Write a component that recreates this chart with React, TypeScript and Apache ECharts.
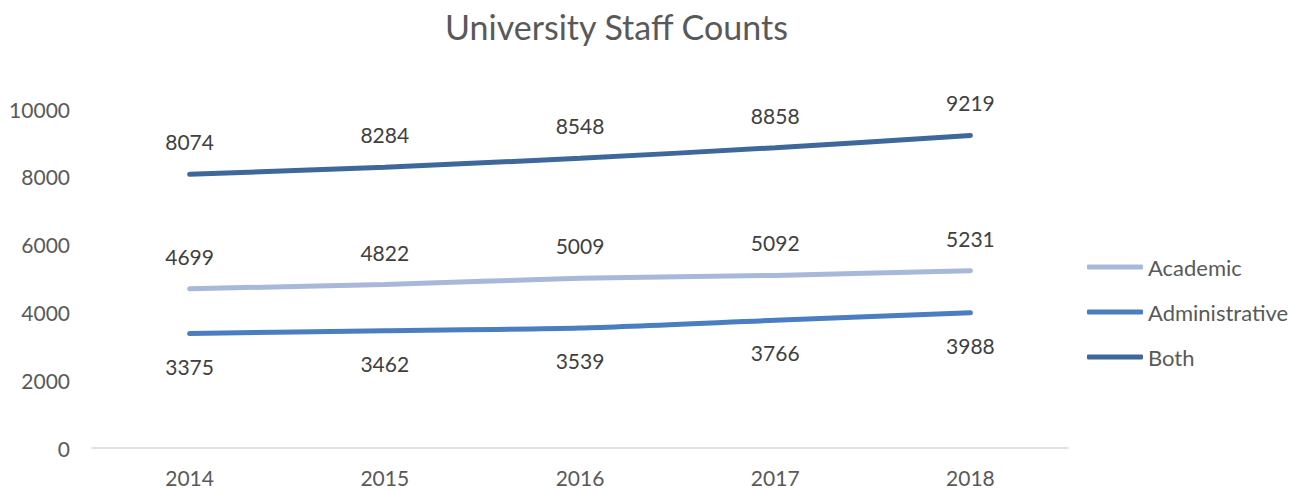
import React, { useEffect, useRef } from "react";
import * as echarts from "echarts";

const years = ["2014", "2015", "2016", "2017", "2018"];
const academic = [4699, 4822, 5009, 5092, 5231];
const administrative = [3375, 3462, 3539, 3766, 3988];
const both = [8074, 8284, 8548, 8858, 9219];

const FONT = "Lato";

export default function App() {
  const ref = useRef<HTMLDivElement>(null);
  useEffect(() => {
    document.body.style.margin = "0";
    const chart = echarts.init(ref.current!, null, { renderer: "svg" });
    const mk = (name: string, data: number[], color: string, pos: string) => ({
      name,
      type: "line",
      data,
      smooth: 0.25,
      symbol: "circle",
      symbolSize: 0,
      itemStyle: { color },
      lineStyle: { color, width: 5, cap: "round" },
      label: {
        show: true,
        position: pos,
        distance: 22,
        color: "#404040",
        fontFamily: FONT,
        fontSize: 21,
      },
    });
    chart.setOption({
      animation: false,
      title: {
        text: "University Staff Counts",
        left: 440,
        top: 4,
        textStyle: { color: "#595959", fontFamily: FONT, fontSize: 34, fontWeight: "normal" },
      },
      grid: { left: 92, right: 236, top: 109, bottom: 43, containLabel: false },
      legend: {
        orient: "vertical",
        left: 1087,
        top: 256,
        padding: 0,
        itemWidth: 56,
        itemHeight: 5,
        itemGap: 23,
        icon: "roundRect",
        textStyle: { color: "#595959", fontFamily: FONT, fontSize: 22, lineHeight: 22 },
        data: ["Academic", "Administrative", "Both"],
      },
      xAxis: {
        type: "category",
        data: years,
        boundaryGap: true,
        axisLine: { lineStyle: { color: "#D9D9D9", width: 1.5 } },
        axisTick: { show: false },
        axisLabel: { color: "#595959", fontFamily: FONT, fontSize: 21, margin: 19 },
      },
      yAxis: {
        type: "value",
        min: 0,
        max: 10000,
        interval: 2000,
        splitLine: { show: false },
        axisLine: { show: false },
        axisTick: { show: false },
        axisLabel: {
          color: "#595959",
          fontFamily: FONT,
          fontSize: 21,
          margin: 22,
          formatter: (v: number) => String(v),
        },
      },
      series: [
        mk("Academic", academic, "#A7B8D9", "top"),
        mk("Administrative", administrative, "#4A7EC0", "bottom"),
        mk("Both", both, "#3E679C", "top"),
      ],
    });
    return () => chart.dispose();
  }, []);
  return <div ref={ref} style={{ width: 1304, height: 491 }} />;
}
